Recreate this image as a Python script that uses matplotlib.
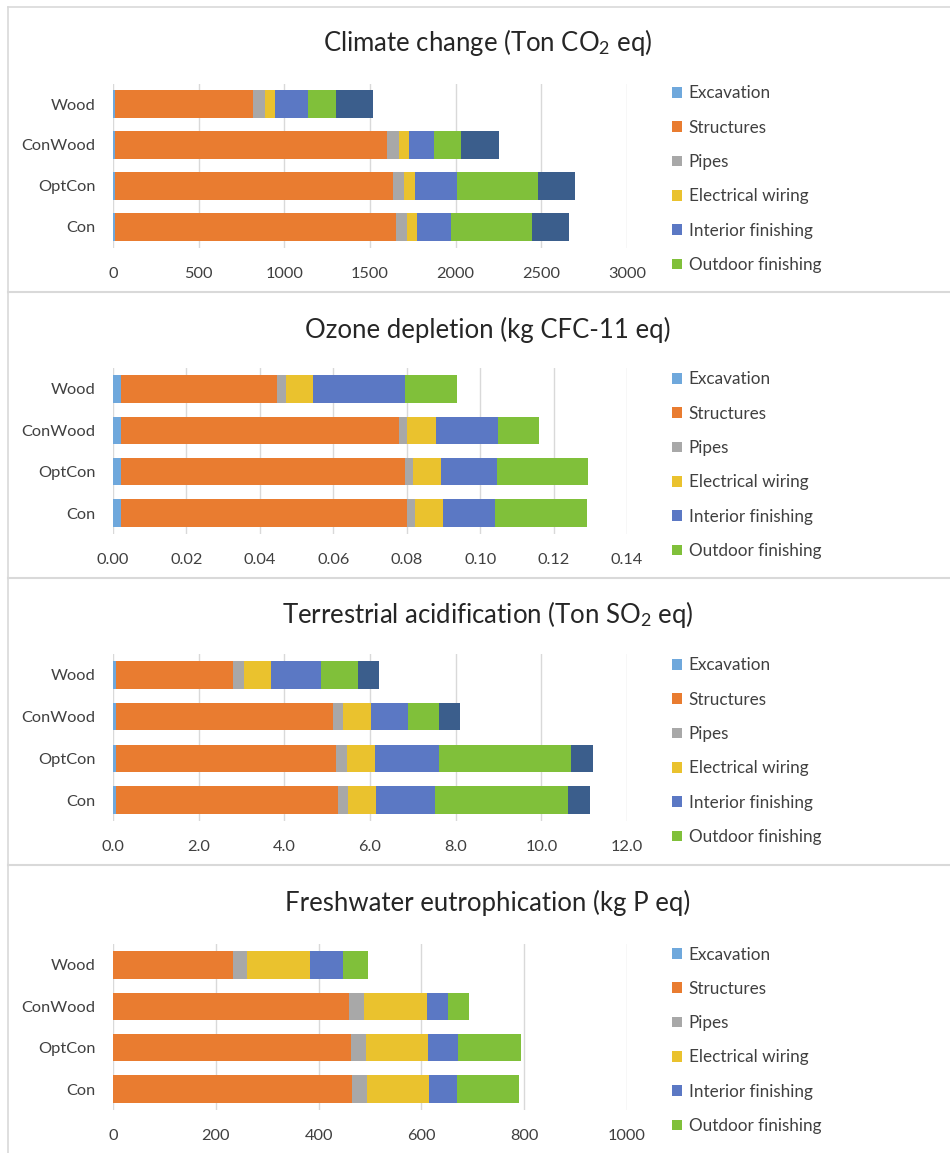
import matplotlib
matplotlib.use("Agg")
import matplotlib.pyplot as plt
import numpy as np

plt.rcParams['font.family'] = ['Lato', 'DejaVu Sans']
plt.rcParams['mathtext.fontset'] = 'custom'
plt.rcParams['mathtext.rm'] = 'Lato'
plt.rcParams['mathtext.it'] = 'Lato:italic'

# ---------------- data ----------------
categories = ["Con", "OptCon", "ConWood", "Wood"]
components = ["Excavation", "Structures", "Pipes", "Electrical wiring",
              "Interior finishing", "Outdoor finishing", "Other"]
colors = ["#6FA8DC", "#E97C30", "#A8A8A8", "#EAC22E", "#5B78C4", "#80C03A", "#3B5E8C"]

titles = ["Climate change (Ton CO$_2$ eq)",
          "Ozone depletion (kg CFC-11 eq)",
          "Terrestrial acidification (Ton SO$_2$ eq)",
          "Freshwater eutrophication (kg P eq)"]

# values per category order: Con, OptCon, ConWood, Wood
climate_excavation = [10, 10, 10, 10]
climate_structures = [1640, 1623, 1591, 809]
climate_pipes = [64, 68, 66, 66]
climate_electrical = [61, 62, 62, 62]
climate_interior = [199, 246, 142, 191]
climate_outdoor = [470, 469, 162, 163]
climate_other = [216, 217, 219, 214]

ozone_excavation = [0.0022, 0.0022, 0.0022, 0.0022]
ozone_structures = [0.0778, 0.0773, 0.0757, 0.0425]
ozone_pipes = [0.0023, 0.0023, 0.0023, 0.0023]
ozone_electrical = [0.0077, 0.0076, 0.0077, 0.0076]
ozone_interior = [0.0140, 0.0151, 0.0170, 0.0249]
ozone_outdoor = [0.0250, 0.0248, 0.0111, 0.0142]
ozone_other = [0.0, 0.0, 0.0, 0.0]

acid_excavation = [0.07, 0.07, 0.07, 0.07]
acid_structures = [5.18, 5.14, 5.07, 2.73]
acid_pipes = [0.24, 0.25, 0.24, 0.25]
acid_electrical = [0.65, 0.65, 0.64, 0.63]
acid_interior = [1.37, 1.49, 0.86, 1.18]
acid_outdoor = [3.12, 3.10, 0.72, 0.85]
acid_other = [0.50, 0.51, 0.51, 0.50]

eutro_excavation = [0.5, 0.5, 0.5, 0.5]
eutro_structures = [464, 462, 459, 233]
eutro_pipes = [29, 29, 29, 28]
eutro_electrical = [121, 121, 122, 122]
eutro_interior = [54, 59, 42, 64]
eutro_outdoor = [121, 122, 40, 48]
eutro_other = [0, 0, 0, 0]

climate_ticks = [0, 500, 1000, 1500, 2000, 2500, 3000]
climate_ticklabels = ["0", "500", "1000", "1500", "2000", "2500", "3000"]
ozone_ticks = [0, 0.02, 0.04, 0.06, 0.08, 0.10, 0.12, 0.14]
ozone_ticklabels = ["0.00", "0.02", "0.04", "0.06", "0.08", "0.10", "0.12", "0.14"]
acid_ticks = [0, 2, 4, 6, 8, 10, 12]
acid_ticklabels = ["0.0", "2.0", "4.0", "6.0", "8.0", "10.0", "12.0"]
eutro_ticks = [0, 200, 400, 600, 800, 1000]
eutro_ticklabels = ["0", "200", "400", "600", "800", "1000"]

panels = [
    ([climate_excavation, climate_structures, climate_pipes, climate_electrical,
      climate_interior, climate_outdoor, climate_other], climate_ticks, climate_ticklabels),
    ([ozone_excavation, ozone_structures, ozone_pipes, ozone_electrical,
      ozone_interior, ozone_outdoor, ozone_other], ozone_ticks, ozone_ticklabels),
    ([acid_excavation, acid_structures, acid_pipes, acid_electrical,
      acid_interior, acid_outdoor, acid_other], acid_ticks, acid_ticklabels),
    ([eutro_excavation, eutro_structures, eutro_pipes, eutro_electrical,
      eutro_interior, eutro_outdoor, eutro_other], eutro_ticks, eutro_ticklabels),
]

# ---------------- layout ----------------
W, H = 950, 1153
fig = plt.figure(figsize=(W / 100, H / 100), dpi=100)

text_col = "#404040"
grid_col = "#D9D9D9"
frame_col = "#D9D9D9"

ax_x0, ax_x1 = 113, 627
ax_tops = [83.5, 368.3, 654.0, 944.3]
ax_bots = [247.5, 533.7, 821.0, 1109.7]
title_y = [43, 330, 615, 903]
legend_top = [85.5, 371.5, 657.5, 946.5]
separators = [292, 578, 865]

# frame lines
bg = fig.add_axes([0, 0, 1, 1], zorder=-5)
bg.set_xlim(0, W)
bg.set_ylim(H, 0)
bg.axis("off")
bg.plot([8, 8], [7, H], color=frame_col, lw=1.2)
bg.plot([8, W], [7, 7], color=frame_col, lw=1.2)
for s in separators:
    bg.plot([8, W], [s, s], color=frame_col, lw=1.5)

y = np.arange(len(categories))
for i, (series, ticks, ticklabels) in enumerate(panels):
    top, bot = ax_tops[i], ax_bots[i]
    ax = fig.add_axes([ax_x0 / W, 1 - bot / H, (ax_x1 - ax_x0) / W, (bot - top) / H])
    left = np.zeros(len(categories))
    for vals, name, c in zip(series, components, colors):
        vals = np.array(vals, dtype=float)
        ax.barh(y, vals, left=left, height=0.66, color=c, label=name, zorder=3)
        left += vals
    ax.set_xlim(ticks[0], ticks[-1])
    ax.set_ylim(-0.5, len(categories) - 0.5)
    ax.set_xticks(ticks)
    ax.set_xticklabels(ticklabels)
    ax.set_yticks(y)
    ax.set_yticklabels(categories)
    for sp in ax.spines.values():
        sp.set_visible(False)
    ax.grid(axis="x", color=grid_col, lw=1.0, zorder=0)
    ax.tick_params(axis="both", length=0, labelsize=11.8, colors=text_col)
    ax.tick_params(axis="x", pad=14)
    ax.tick_params(axis="y", pad=12.5)
    fig.text(488 / W, 1 - title_y[i] / H, titles[i], ha="center", va="center",
             fontsize=18.5, color="#262626")
    handles, labels = ax.get_legend_handles_labels()
    leg = ax.legend(handles[:6], labels[:6], loc="upper left",
                    bbox_to_anchor=(672 / W, 1 - legend_top[i] / H),
                    bbox_transform=fig.transFigure, frameon=False, fontsize=12.3,
                    handlelength=0.58, handleheight=0.58, handletextpad=0.4,
                    labelspacing=1.07, borderpad=0, borderaxespad=0)
    for t in leg.get_texts():
        t.set_color(text_col)

fig.savefig("out.png", dpi=100)
